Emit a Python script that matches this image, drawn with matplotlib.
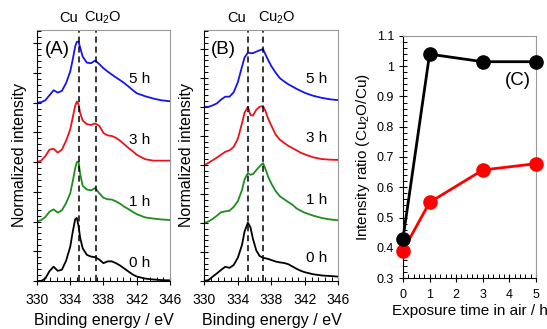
import numpy as np
import matplotlib
matplotlib.use("Agg")
import matplotlib.pyplot as plt
from matplotlib.ticker import MultipleLocator, FuncFormatter

plt.rcParams['font.family'] = ['Liberation Sans', 'DejaVu Sans']
plt.rcParams['mathtext.default'] = 'regular'

# ---- panel A spectra (normalized intensity vs binding energy) ----
energy_a = [330.0, 330.5, 331.0, 331.5, 332.0, 332.5, 333.0, 333.5, 334.0, 334.3,
            334.6, 334.8, 335.0, 335.2, 335.5, 336.0, 336.5, 337.0, 337.5, 338.0,
            338.5, 339.0, 339.5, 340.0, 340.5, 341.0, 341.5, 342.0, 343.0, 344.0,
            345.0, 346.0]
a_0h = [0.0, 0.0, 0.08, 0.33, 0.48, 0.34, 0.38, 0.68, 1.15, 1.65,
        2.08, 2.12, 1.85, 1.45, 1.10, 0.88, 0.82, 0.80, 0.72, 0.60,
        0.66, 0.66, 0.60, 0.52, 0.42, 0.32, 0.22, 0.15, 0.08, 0.05,
        0.03, 0.02]
a_1h = [0.0, 0.05, 0.15, 0.33, 0.41, 0.30, 0.38, 0.62, 0.95, 1.35,
        1.80, 2.00, 2.02, 1.60, 1.20, 1.08, 1.05, 1.13, 0.95, 0.80,
        0.75, 0.74, 0.68, 0.60, 0.50, 0.42, 0.33, 0.25, 0.14, 0.10,
        0.07, 0.05]
a_3h = [0.0, 0.05, 0.20, 0.42, 0.45, 0.32, 0.42, 0.72, 1.10, 1.50,
        1.90, 2.04, 1.95, 1.65, 1.40, 1.28, 1.25, 1.30, 1.22, 0.98,
        0.90, 0.88, 0.82, 0.72, 0.60, 0.48, 0.37, 0.25, 0.10, 0.05,
        0.05, 0.05]
a_5h = [0.0, 0.02, 0.08, 0.25, 0.42, 0.34, 0.40, 0.66, 1.05, 1.45,
        1.90, 2.05, 2.06, 1.85, 1.55, 1.35, 1.33, 1.42, 1.30, 1.16,
        1.05, 0.95, 0.85, 0.76, 0.66, 0.55, 0.43, 0.32, 0.22, 0.14,
        0.08, 0.05]

# ---- panel B spectra ----
energy_b = [330.0, 330.5, 331.0, 331.5, 332.0, 332.5, 333.0, 333.5, 334.0, 334.5,
            334.8, 335.2, 335.5, 335.8, 336.2, 336.6, 337.0, 337.3, 337.6, 338.0,
            338.5, 339.0, 339.5, 340.0, 340.5, 341.0, 341.5, 342.0, 343.0, 344.0,
            345.0, 346.0]
b_0h = [0.0, 0.03, 0.15, 0.26, 0.38, 0.49, 0.45, 0.55, 0.80, 1.25,
        1.70, 2.01, 1.85, 1.45, 1.05, 0.86, 0.80, 0.78, 0.76, 0.72,
        0.67, 0.64, 0.62, 0.58, 0.50, 0.42, 0.35, 0.30, 0.23, 0.19,
        0.17, 0.15]
b_1h = [0.0, 0.05, 0.14, 0.25, 0.37, 0.40, 0.42, 0.55, 0.75, 1.14,
        1.50, 1.72, 1.66, 1.68, 1.82, 1.95, 2.06, 1.85, 1.60, 1.35,
        1.10, 0.92, 0.82, 0.72, 0.63, 0.50, 0.42, 0.35, 0.25, 0.17,
        0.12, 0.09]
b_3h = [0.0, 0.07, 0.16, 0.25, 0.35, 0.45, 0.50, 0.62, 0.90, 1.44,
        1.80, 2.00, 1.72, 1.70, 1.90, 2.00, 2.03, 1.85, 1.60, 1.35,
        1.05, 0.87, 0.76, 0.66, 0.58, 0.50, 0.42, 0.36, 0.26, 0.20,
        0.18, 0.17]
b_5h = [0.0, 0.0, 0.05, 0.12, 0.25, 0.35, 0.35, 0.50, 0.85, 1.39,
        1.70, 1.87, 1.85, 1.85, 1.90, 1.95, 1.99, 1.80, 1.62, 1.40,
        1.18, 0.99, 0.88, 0.78, 0.70, 0.62, 0.55, 0.48, 0.38, 0.31,
        0.26, 0.23]

time_labels = ["0 h", "1 h", "3 h", "5 h"]
colors = ["black", "#1e8c1e", "#e8141c", "#1414f0"]
offsets = [0, 2, 4, 6]
energy_ticks = [330, 334, 338, 342, 346]

cu_pos_a, cu2o_pos_a = 335.0, 337.1
cu_pos_b, cu2o_pos_b = 335.2, 337.05

# ---- panel C: intensity ratio vs exposure time ----
exposure_h = [0, 1, 3, 5]
ratio_black = [0.43, 1.04, 1.015, 1.015]
ratio_red = [0.39, 0.55, 0.657, 0.678]

fig = plt.figure(figsize=(5.47, 3.29), dpi=100)


def style_axes(ax):
    for side in ("top", "right"):
        ax.spines[side].set_color("#999999")
    ax.tick_params(which="major", direction="inout", length=6, width=0.8)
    ax.tick_params(which="minor", direction="in", length=3, width=0.7)


def spectra_panel(ax, energy, curves, ytop, cu_pos, cu2o_pos,
                  label_xy, panel, cu_txt, cu2o_txt, hlabel_x, hlabel_y):
    for y, c, off in zip(curves, colors, offsets):
        ax.plot(energy, np.array(y) + off, color=c, lw=1.3)
    ax.axvline(cu_pos, color="black", ls=(0, (4, 2.5)), lw=1.1)
    ax.axvline(cu2o_pos, color="black", ls=(0, (4, 2.5)), lw=1.1)
    ax.set_xlim(330, 346)
    ax.set_ylim(0, ytop)
    ax.set_xticks(energy_ticks)
    ax.set_xticks(np.arange(330, 346.01, 0.8), minor=True)
    ax.yaxis.set_major_locator(MultipleLocator(1))
    ax.yaxis.set_minor_locator(MultipleLocator(0.2))
    ax.tick_params(axis="y", labelleft=False)
    ax.tick_params(axis="x", labelsize=10)
    style_axes(ax)
    ax.tick_params(axis="x", which="major", pad=6)
    ax.set_xlabel("Binding energy / eV", fontsize=11.5, labelpad=4)
    ax.set_ylabel("Normalized intensity", fontsize=11.5, labelpad=4)
    ax.text(label_xy[0], label_xy[1], panel, fontsize=13.5,
            ha="center", va="center")
    ax.text(cu_txt[0], cu_txt[1], "Cu", fontsize=10.5, ha="center", va="center")
    ax.text(cu2o_txt[0], cu2o_txt[1], "Cu$_2$O", fontsize=10.5,
            ha="center", va="center")
    for lab, yy in zip(time_labels, hlabel_y):
        ax.text(hlabel_x, yy, lab, fontsize=11, ha="center", va="center")


ax_a = fig.add_axes([0.0676, 0.146, 0.2431, 0.763])
spectra_panel(ax_a, energy_a, [a_0h, a_1h, a_3h, a_5h], 8.45,
              cu_pos_a, cu2o_pos_a, (332.4, 7.78), "(A)",
              (333.8, 8.86), (337.9, 8.86), 342.4, [0.6, 2.67, 4.75, 6.79])

ax_b = fig.add_axes([0.3735, 0.146, 0.2453, 0.763])
spectra_panel(ax_b, energy_b, [b_0h, b_1h, b_3h, b_5h], 8.65,
              cu_pos_b, cu2o_pos_b, (332.3, 7.97), "(B)",
              (333.9, 9.07), (338.6, 9.07), 343.4, [0.78, 2.79, 4.92, 6.95])

ax_c = fig.add_axes([0.7367, 0.155, 0.2431, 0.7356])
ax_c.plot(exposure_h, ratio_red, color="#ff0000", lw=2, marker="o",
          ms=9.5, clip_on=False, zorder=3)
ax_c.plot(exposure_h, ratio_black, color="black", lw=2, marker="o",
          ms=9.5, clip_on=False, zorder=4)
ax_c.set_xlim(0, 5)
ax_c.set_ylim(0.3, 1.1)
ax_c.xaxis.set_major_locator(MultipleLocator(1))
ax_c.xaxis.set_minor_locator(MultipleLocator(0.2))
ax_c.yaxis.set_major_locator(MultipleLocator(0.1))
ax_c.yaxis.set_minor_locator(MultipleLocator(0.02))
ax_c.yaxis.set_major_formatter(FuncFormatter(lambda v, p: f"{v:g}"))
ax_c.tick_params(labelsize=9)
style_axes(ax_c)
ax_c.tick_params(axis="x", which="major", pad=5)
ax_c.set_xlabel("Exposure time in air / h", fontsize=11, labelpad=2)
ax_c.set_ylabel("Intensity ratio (Cu$_2$O/Cu)", fontsize=11, labelpad=3)
ax_c.text(4.32, 0.954, "(C)", fontsize=13.5, ha="center", va="center")

fig.savefig("out.png", dpi=100)
